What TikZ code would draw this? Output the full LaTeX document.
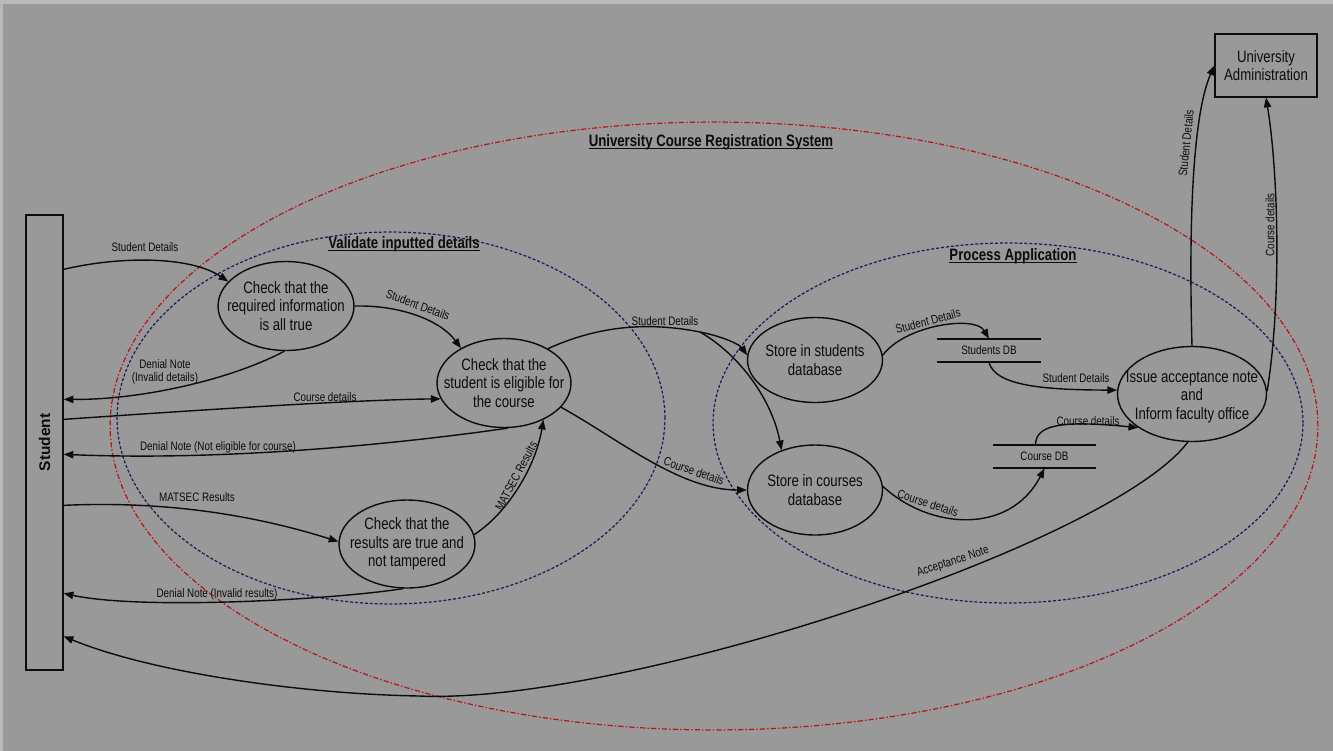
\documentclass[tikz,border=0pt]{standalone}
\usepackage{fontspec}
\setmainfont{Liberation Sans}[FakeStretch=0.8]
\newfontfamily\widefont{Liberation Sans}
\usetikzlibrary{shapes.geometric,arrows.meta,calc}

\definecolor{bggray}{RGB}{153,153,153}
\definecolor{edgegray}{RGB}{185,185,185}
\definecolor{sysred}{RGB}{185,20,30}
\definecolor{subnavy}{RGB}{28,30,88}
\definecolor{ink}{RGB}{12,12,12}

% underline sitting just below the baseline
\newcommand\ulin[1]{\setbox0\hbox{#1}\dp0=0pt\underline{\box0}}
\newcommand\lblfont{\fontsize{7}{7.6}\selectfont}

\tikzset{
  procshape/.style 2 args={ellipse, draw=ink, line width=0.8pt, inner sep=0pt,
    minimum width=#1, minimum height=#2},
  proctext/.style={align=center, inner sep=0pt, text=ink,
    font=\fontsize{9.4}{10.5}\selectfont},
  lbl/.style={align=center, inner sep=0pt, text=ink, font=\lblfont},
  titletext/.style={inner sep=0pt, text=ink, font=\fontsize{9.4}{11}\selectfont\bfseries},
  store/.style={inner sep=0pt, minimum height=0.46cm, text=ink, font=\lblfont},
  dbline/.style={draw=ink, line width=1.2pt},
  conn/.style={draw=ink, line width=0.8pt},
  flow/.style={conn, -{Triangle[length=5.5pt,width=4.2pt]}},
  scopeline/.style={line width=0.7pt},
}

\begin{document}
\begin{tikzpicture}[x=0.02cm, y=-0.02cm]
% page background
\fill[edgegray] (0,0) rectangle (1333,751);
\fill[bggray] (3,4) rectangle (1333,751);
\useasboundingbox (0,0) rectangle (1333,751);

% system boundary and the two sub-process groups
\draw[sysred, scopeline, dash pattern=on 3pt off 1.2pt on 0.8pt off 1.2pt]
  (714,426) ellipse [x radius=12.08cm, y radius=6.08cm];
\draw[subnavy, scopeline, dash pattern=on 1.7pt off 1.1pt]
  (391,418) ellipse [x radius=5.48cm, y radius=3.72cm];
\draw[subnavy, scopeline, dash pattern=on 1.7pt off 1.1pt]
  (1008,423) ellipse [x radius=5.9cm, y radius=3.6cm];

\node[titletext] (tsys) at (711,142) {\ulin{University Course Registration System}};
\node[titletext] (tval) at (404,244) {\ulin{Validate inputted details}};
\node[titletext] (tproc) at (1013,256) {\ulin{Process Application}};

% external entities
\node[draw=ink, line width=0.8pt, minimum width=0.74cm, minimum height=9.1cm,
  inner sep=0pt] (stud) at (44.5,442.5) {};
\node[rotate=90, inner sep=0pt, text=ink,
  font=\widefont\fontsize{8.8}{10}\selectfont\bfseries] (studlbl) at (stud) {Student};
\node[draw=ink, line width=0.8pt, minimum width=2.04cm, minimum height=1.26cm,
  inner sep=0pt, align=center, text=ink, font=\fontsize{9.4}{10.5}\selectfont]
  (UA) at (1266,65.5) {University\\Administration};

% points on the student's edge
\coordinate (s1) at ($(stud.north east)+(0,55)$);
\coordinate (s3) at ($(stud.north east)+(0,185)$);
\coordinate (s4) at ($(stud.north east)+(0,205)$);
\coordinate (s5) at ($(stud.north east)+(0,240)$);
\coordinate (s6) at ($(stud.north east)+(0,291)$);
\coordinate (s7) at ($(stud.north east)+(0,379)$);
\coordinate (s15) at ($(stud.north east)+(0,422)$);

% processes
\node[procshape={2.72cm}{1.78cm}] (A) at (286,306) {};
\node[proctext] (At) at (A) {Check that the\\required information\\is all true};
\node[procshape={2.68cm}{1.78cm}] (B) at (504,383) {};
\node[proctext] (Bt) at (B) {Check that the\\student is eligible for\\the course};
\node[procshape={2.72cm}{1.76cm}] (C) at (407,544) {};
\node[proctext] (Ct) at (C) {Check that the\\results are true and\\not tampered};
\node[procshape={2.70cm}{1.70cm}] (D) at (815,360) {};
\node[proctext] (Dt) at (D) {Store in students\\database};
\node[procshape={2.70cm}{1.80cm}] (E) at (815,490) {};
\node[proctext] (Et) at (E) {Store in courses\\database};
\node[procshape={2.98cm}{1.90cm}] (F) at (1192,394) {};
\node[proctext] (Ft) at ($(F)+(0,3)$) {Issue acceptance note\\and\\Inform faculty office};

% data stores
\node[store, minimum width=2.08cm] (sdb) at (989,350.5) {Students DB};
\draw[dbline] (sdb.north west) -- (sdb.north east) (sdb.south west) -- (sdb.south east);
\node[store, minimum width=2.06cm] (cdb) at (1044.5,456.5) {Course DB};
\draw[dbline] (cdb.north west) -- (cdb.north east) (cdb.south west) -- (cdb.south east);

% data flows
\draw[flow] (s1) .. controls (120,256) and (190,256) .. (A.157);
\draw[flow] (A.east) .. controls (400,305) and (440,320) .. (B.141);
\draw[flow] (A.268) .. controls (230,380) and (140,400) .. (s3);
\draw[flow] (s4) .. controls (200,410) and (350,400) .. (B.194);
\draw[flow] (B.275) .. controls (440,438) and (250,462) .. (s5);
\draw[flow] (s6) .. controls (180,500) and (270,520) .. (C.178);
\draw[flow] (C.265) .. controls (330,600) and (140,610) .. (s7);
\draw[flow] (C.8) .. controls (505,515) and (535,470) .. (B.-43);
\coordinate (J) at (700,332);
\draw[conn] (B.38) .. controls (600,325) and (650,322) .. (J);
\draw[flow] (J) .. controls (725,337) and (740,345) .. (D.176);
\draw[flow] (J) .. controls (740,355) and (772,400) .. (E.130);
\draw[flow] (B.-23) .. controls (620,440) and (680,490) .. (E.180);
\draw[flow] (D.4) .. controls (905,325) and (975,315) .. (sdb.north);
\draw[flow] (sdb.south) .. controls (995,385) and (1040,390) .. (F.177);
\draw[flow] (E.3) .. controls (930,530) and (1010,535) .. (cdb.south);
\draw[flow] ($(cdb.north)+(-9,0)$) .. controls (1036,425) and (1060,420) .. (F.212);
\coordinate (low) at (419,696);
\draw[flow] (F.265) .. controls (1110,545) and (620,705) .. (low)
  .. controls (300,694) and (150,672) .. (s15);
\draw[flow] (F.north) .. controls (1188,200) and (1195,110) .. (UA.west);
\draw[flow] (F.2) .. controls (1282,300) and (1278,170) .. (UA.south);

% flow labels
\node[lbl] (l1) at (145,247) {Student Details};
\node[lbl, rotate=-20] (l2) at (418,305) {Student Details};
\node[lbl] (l3) at (165,372) {Denial Note\\(Invalid details)};
\node[lbl] (l4) at (325,397) {Course details};
\node[lbl] (l5) at (218,447) {Denial Note (Not eligible for course)};
\node[lbl] (l6) at (197,497) {MATSEC Results};
\node[lbl] (l7) at (217,594) {Denial Note (Invalid results)};
\node[lbl, rotate=62] (l8) at (516,476) {MATSEC Results};
\node[lbl] (l9) at (665,321) {Student Details};
\node[lbl, rotate=-19] (l10) at (694,471) {Course details};
\node[lbl, rotate=15] (l11) at (928,321) {Student Details};
\node[lbl] (l12) at (1076,378) {Student Details};
\node[lbl, rotate=-18] (l13) at (928,503) {Course details};
\node[lbl] (l14) at (1088,421) {Course details};
\node[lbl, rotate=18] (l15) at (953,562) {Acceptance Note};
\node[lbl, rotate=84] (l16) at (1186,143) {Student Details};
\node[lbl, rotate=90] (l17) at (1270,225) {Course details};
\end{tikzpicture}
\end{document}
